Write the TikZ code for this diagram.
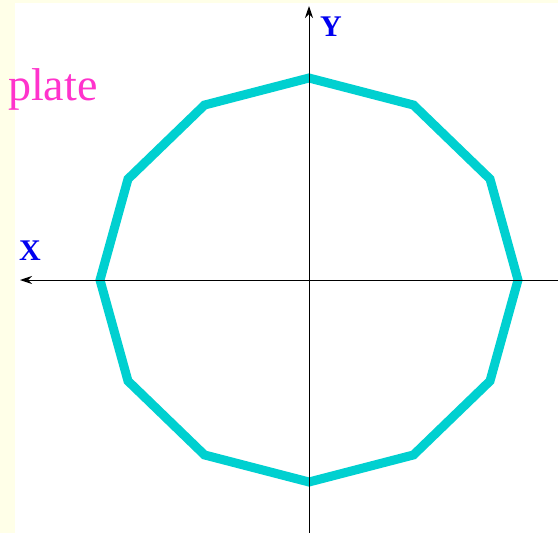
\documentclass[tikz,border=0pt]{standalone}
\usepackage{fontspec}
\setmainfont{Liberation Serif}
\usetikzlibrary{arrows.meta}
\definecolor{platecyan}{RGB}{0,208,208}
\definecolor{axisblue}{RGB}{0,0,240}
\definecolor{platepink}{RGB}{255,51,204}
\definecolor{paper}{RGB}{255,255,232}
\begin{document}
\begin{tikzpicture}[x=1pt, y=-1pt,
    axis/.style={line width=1pt, -{Stealth[length=12pt, width=8pt]}},
    axislabel/.style={text=axisblue, inner sep=0pt, font=\bfseries\fontsize{30}{30}\selectfont}]
    % page
    \useasboundingbox (0,0) rectangle (558,533);
    \fill[paper] (0,0) rectangle (558,533);
    \fill[white] (15,3) rectangle (558,533);
    % plate outline (12-gon)
    \begin{scope}[shift={(309,280)}]
        \draw[platecyan, line width=9pt, line join=miter]
            (0:209 and 202) \foreach \a in {30,60,...,330} { -- (\a:209 and 202) } -- cycle;
    \end{scope}
    % axes
    \coordinate (xend) at (558,280);
    \coordinate (xtip) at (20,280);
    \coordinate (yend) at (309,533);
    \coordinate (ytip) at (309,6);
    \draw[axis] (xend) -- (xtip);
    \draw[axis] (yend) -- (ytip);
    \node[axislabel] (xlab) at (30,251) {X};
    \node[axislabel] (ylab) at (331,27) {Y};
    % label
    \node[text=platepink, inner sep=0pt, anchor=base west,
          font=\fontsize{46}{46}\selectfont] (plate) at (8,100) {plate};
\end{tikzpicture}
\end{document}
